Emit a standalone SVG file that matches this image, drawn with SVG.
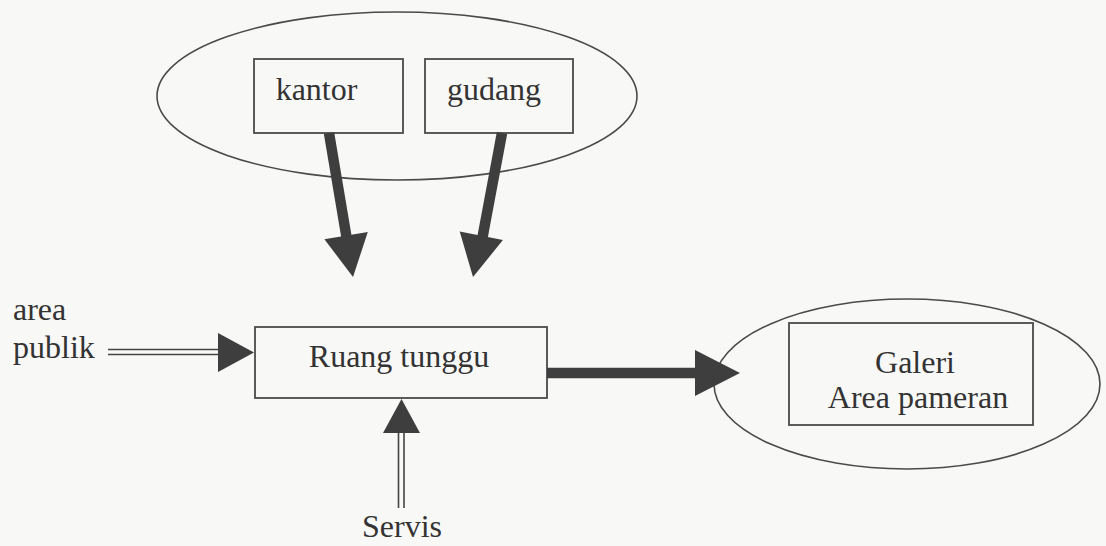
<svg xmlns="http://www.w3.org/2000/svg" width="1106" height="546" viewBox="0 0 1106 546">
<style>
.shape{fill:none;stroke:#4a4a4a;stroke-width:1.6}
.box{fill:none;stroke:#4a4a4a;stroke-width:1.8}
.t{font-family:"Liberation Serif","Times New Roman",serif;font-size:32px;fill:#333}
.thick{stroke:#3e3e3e;stroke-width:10.5;fill:none}
.head{fill:#3e3e3e}
.dbl{stroke:#444;stroke-width:1.6;fill:none}
</style>
<rect width="1106" height="546" fill="#f8f8f6"/>
<g id="top-group">
<ellipse class="shape" cx="397" cy="96" rx="240" ry="84"/>
</g>
<g id="kantor">
<rect class="box" x="254" y="59" width="149" height="74"/>
<text class="t" x="316.5" y="100" text-anchor="middle">kantor</text>
</g>
<g id="gudang">
<rect class="box" x="425" y="59" width="148" height="74"/>
<text class="t" x="494" y="100" text-anchor="middle">gudang</text>
</g>
<g id="ruang-tunggu">
<rect class="box" x="255" y="327" width="292" height="71"/>
<text class="t" x="399" y="367" text-anchor="middle">Ruang tunggu</text>
</g>
<g id="galeri-group">
<ellipse class="shape" cx="907" cy="384" rx="193" ry="85"/>
</g>
<g id="galeri">
<rect class="box" x="789" y="323" width="244" height="102"/>
<text class="t" x="915" y="373" text-anchor="middle">Galeri</text>
<text class="t" x="918" y="408" text-anchor="middle">Area pameran</text>
</g>
<g id="area-publik">
<text class="t" x="13" y="320">area</text>
<text class="t" x="13" y="358">publik</text>
</g>
<g id="servis">
<text class="t" x="402" y="537" text-anchor="middle">Servis</text>
</g>
<g id="connectors">
<line class="thick" x1="329" y1="133" x2="347" y2="240"/>
<polygon class="head" points="324.4,239.2 367.8,232 353,277"/>
<line class="thick" x1="502" y1="133" x2="482" y2="240"/>
<polygon class="head" points="459.7,231.5 502.9,240.1 473,277"/>
<line class="thick" x1="547" y1="373" x2="698" y2="373"/>
<polygon class="head" points="695,350 695,396 740,373"/>
<line class="dbl" x1="108" y1="349.5" x2="220" y2="349.5"/>
<line class="dbl" x1="108" y1="354.5" x2="220" y2="354.5"/>
<polygon class="head" points="218,333 218,372 254,352.5"/>
<line class="dbl" x1="398.5" y1="508" x2="398.5" y2="431"/>
<line class="dbl" x1="404" y1="508" x2="404" y2="431"/>
<polygon class="head" points="383,433 420,433 401.5,399"/>
</g>
</svg>
